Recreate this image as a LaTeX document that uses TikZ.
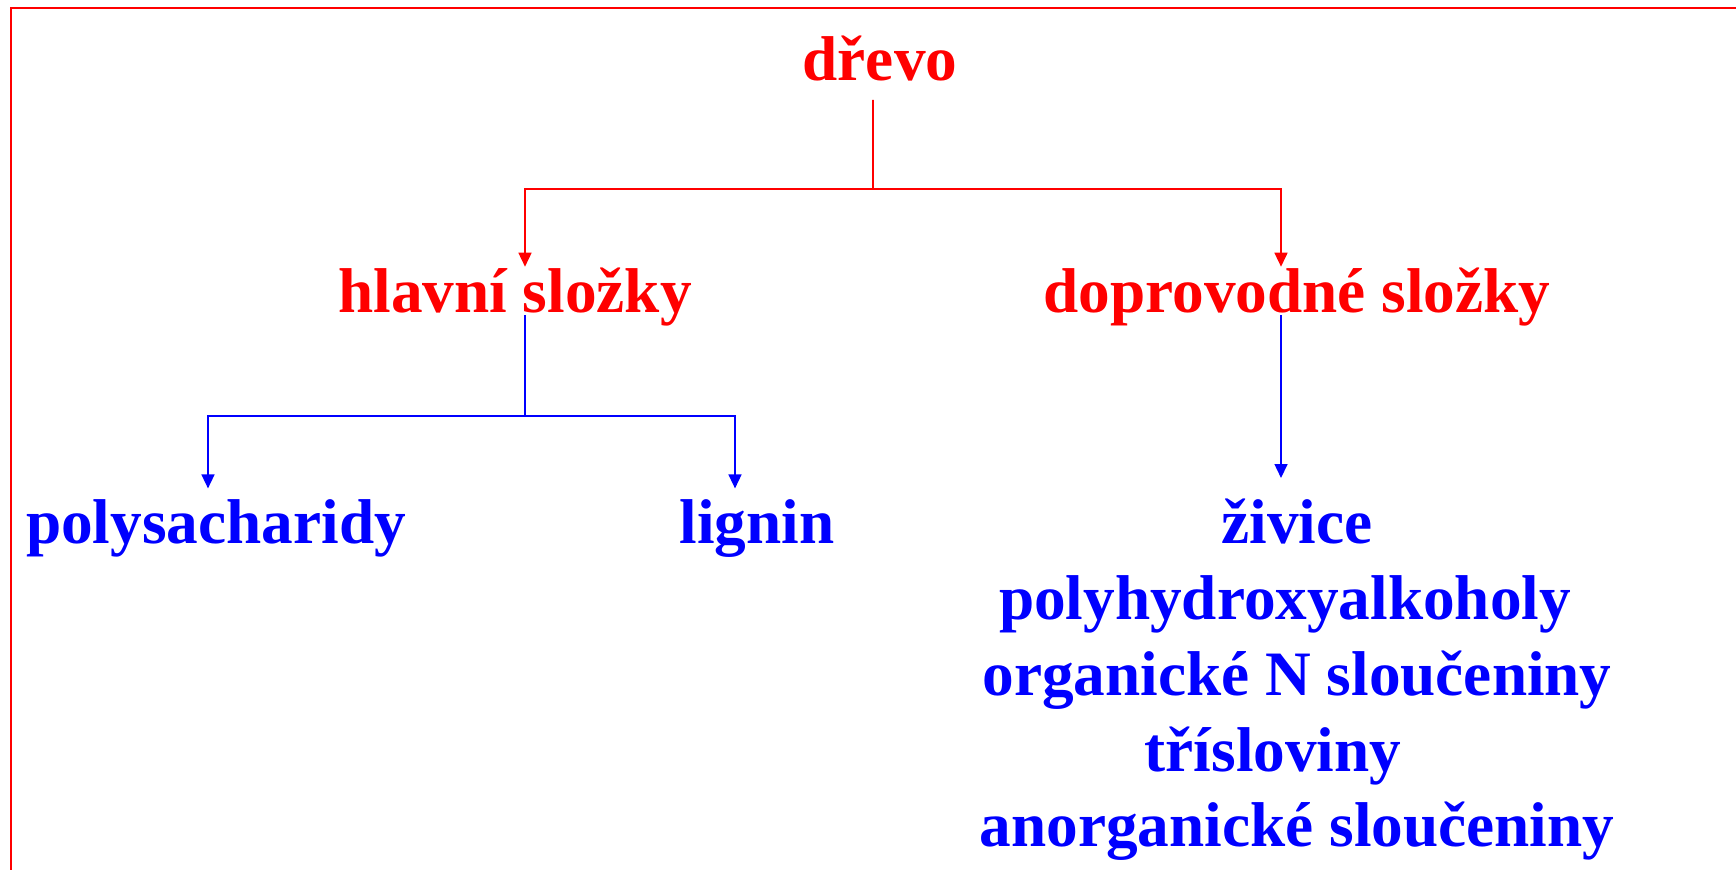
\documentclass[tikz,border=0pt]{standalone}
\usepackage{fontspec}
\setmainfont{Liberation Serif}
\usetikzlibrary{arrows.meta, positioning}
\definecolor{treered}{rgb}{1,0,0}
\definecolor{treeblue}{rgb}{0,0,1}
\def\treefont{\fontsize{18}{21.6}\selectfont\bfseries}
\tikzstyle{rednode}=[text=treered, font=\treefont, inner sep=0pt, anchor=base]
\tikzstyle{bluenode}=[text=treeblue, font=\treefont, inner sep=0pt, anchor=base]
\tikzstyle{redline}=[draw=treered, line width=0.45pt, -{Triangle[width=1.3mm,length=1.4mm]}]
\tikzstyle{blueline}=[draw=treeblue, line width=0.45pt, -{Triangle[width=1.3mm,length=1.4mm]}]
\tikzstyle{redbox}=[draw=treered, line width=0.5pt]

\begin{document}
\begin{tikzpicture}
  \useasboundingbox (0,0) rectangle (17.36,-8.69);
  \clip (0,0) rectangle (17.36,-8.69);
  \draw[redbox] (0.11,-0.08) rectangle (17.6,-9.0);

  \node[rednode] (drevo) at (8.80,-0.81) {dřevo};
  \node[rednode] (hlavni) at (5.15,-3.12) {hlavní složky};
  \node[rednode] (doprov) at (12.97,-3.12) {doprovodné složky};

  \node[bluenode] (polysach) at (2.16,-5.43) {polysacharidy};
  \node[bluenode] (lignin) at (7.57,-5.43) {lignin};
  \node[bluenode, anchor=north, align=center] (zivice) at (12.97,-4.98)
       {živice\\polyhydroxyalkoholy\hspace*{0.24cm}\null\\organické N sloučeniny\\třísloviny\hspace*{0.48cm}\null\\anorganické sloučeniny};

  % junctions
  \coordinate (jred) at (8.73,-1.89);
  \coordinate (jblue) at (5.25,-4.16);

  \draw[redline, -] ([xshift=-0.7mm,yshift=-1.9mm]drevo.base) -- (jred);
  \draw[redline] (jred) -| ([xshift=1mm]hlavni.north);
  \draw[redline] (jred) -| ([xshift=-1.6mm]doprov.north);

  \draw[blueline, -] ([xshift=1mm,yshift=-0.3mm]hlavni.base) -- (jblue);
  \draw[blueline, shorten >=1mm] (jblue) -| ([xshift=-0.8mm]polysach.north);
  \draw[blueline, shorten >=1mm] (jblue) -| ([xshift=-2.2mm]lignin.north);

  \draw[blueline, shorten >=2mm] ([xshift=-1.6mm,yshift=-0.3mm]doprov.base) -- ([xshift=-1.6mm]zivice.north);
\end{tikzpicture}
\end{document}
